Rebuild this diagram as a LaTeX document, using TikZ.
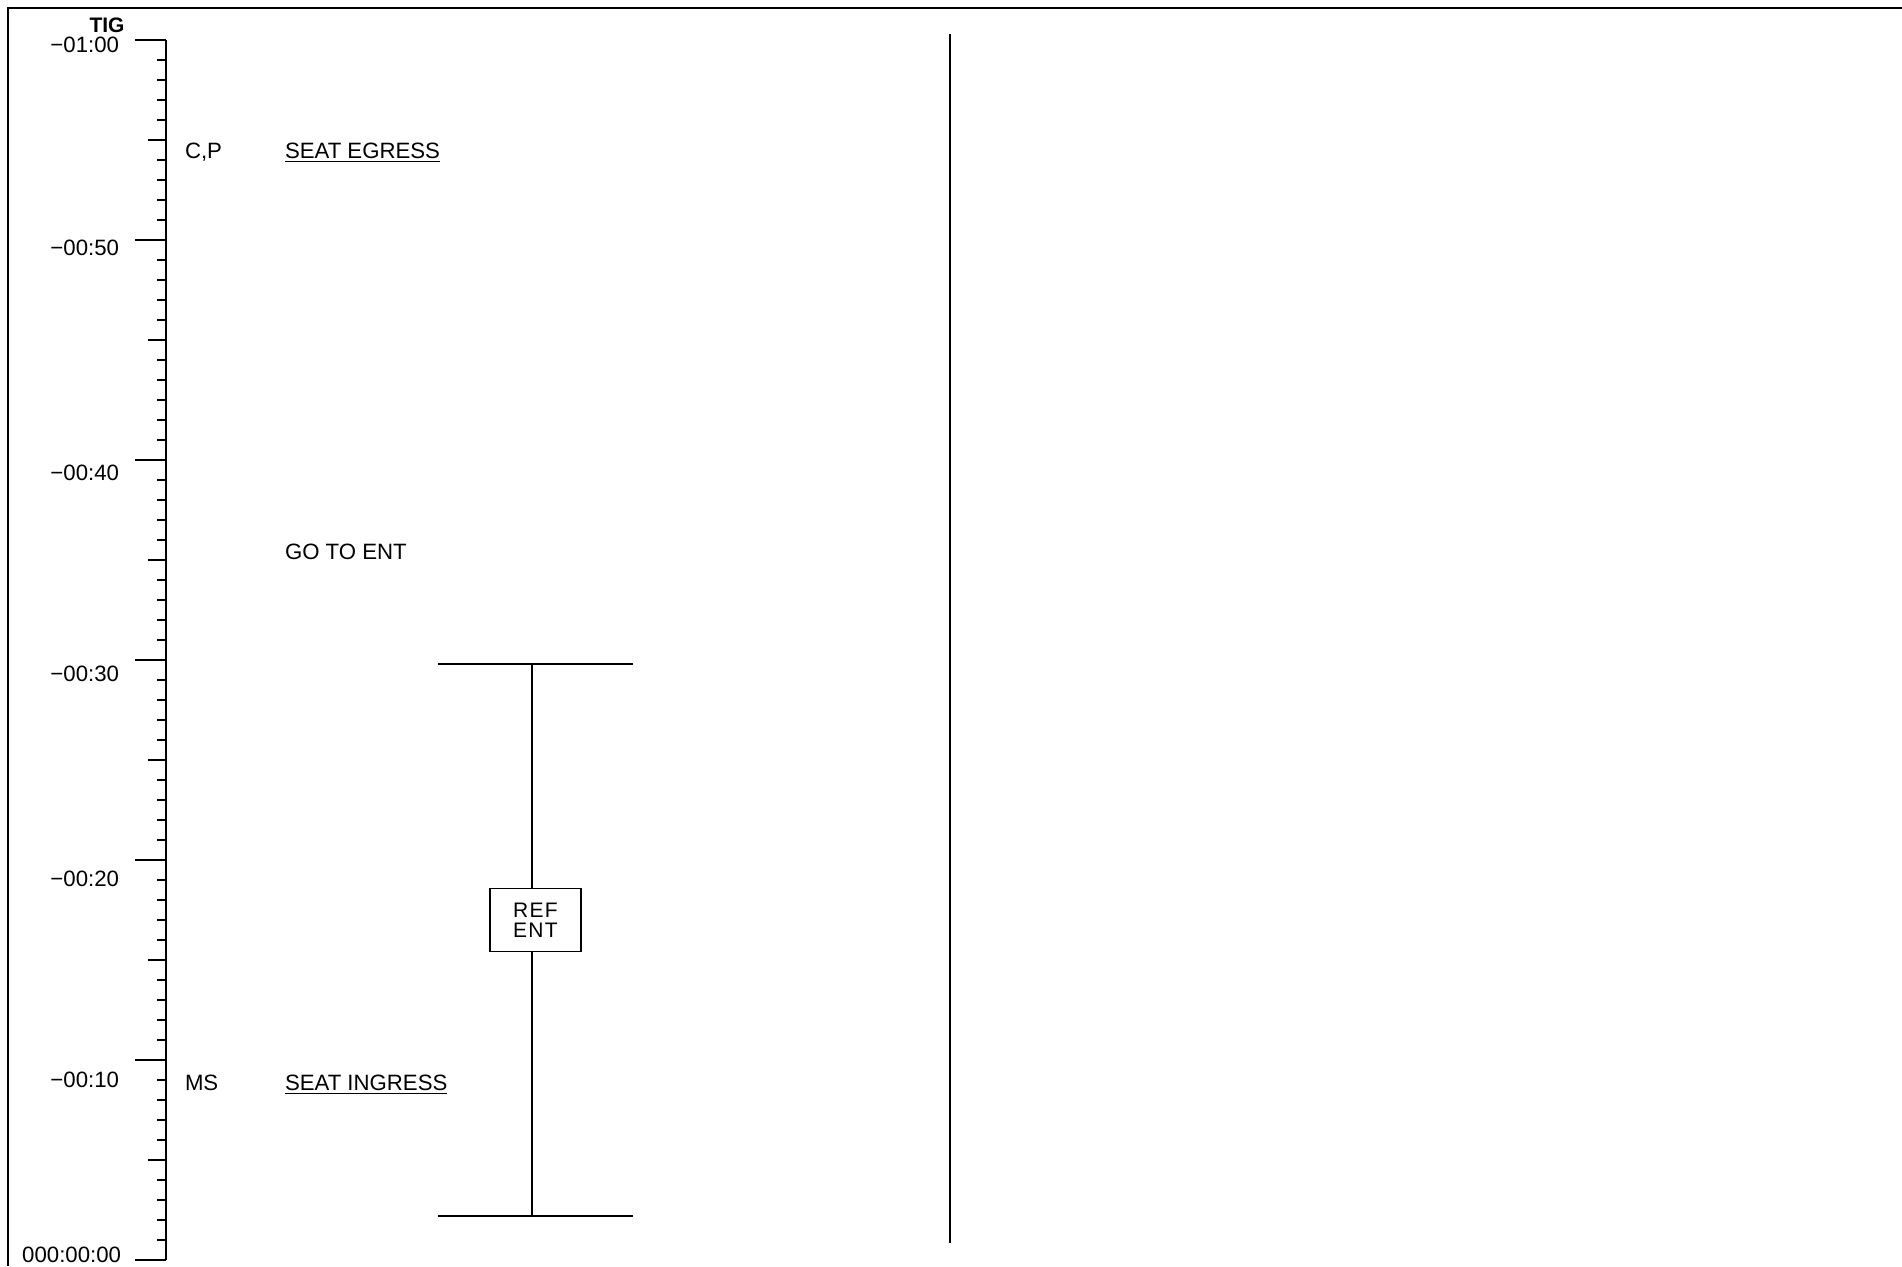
\documentclass[tikz,border=0pt]{standalone}
\usepackage{fontspec}
\setmainfont{Liberation Sans}
\usetikzlibrary{positioning}

\begin{document}
\begin{tikzpicture}[x=0.5pt,y=-0.5pt,line width=1pt,
  every node/.style={font=\fontsize{11.1}{10}\selectfont,inner sep=0pt},
  timelbl/.style={anchor=base east},
  evtlbl/.style={anchor=base west}]
  \useasboundingbox (0,0) rectangle (1902,1266);
  \draw (1902,8) -- (8,8) -- (8,1266) ;  %Frame (top and left)
  \draw (166,40) -- (166,1260) ;  %Time axis

  \foreach \k in {0,...,61} \draw (157,{40+20*\k}) -- (166,{40+20*\k}) ; %Minute ticks
  \foreach \y in {140,340,560,760,960,1160} \draw (148,\y) -- (166,\y) ; %Five minute ticks
  \foreach \y in {40,240,460,660,860,1060,1260} \draw (135,\y) -- (166,\y) ; %Ten minute ticks

  \node[font=\fontsize{10.5}{10}\selectfont\bfseries,anchor=base] (tig) at (107,32) {TIG};
  \node[timelbl] (m60) at (120,52) {−01:00};
  \node[timelbl] (m50) at (120,255) {−00:50};
  \node[timelbl] (m40) at (120,480) {−00:40};
  \node[timelbl] (m30) at (120,681) {−00:30};
  \node[timelbl] (m20) at (120,886) {−00:20};
  \node[timelbl] (m10) at (120,1087) {−00:10};
  \node[timelbl] (m00) at (122,1262) {000:00:00};

  \node[evtlbl] (crewcp) at (184,158) {C,P};
  \node[evtlbl] (egress) at (284,158) {\underline{SEAT EGRESS}};
  \node[evtlbl] (goent) at (284,559) {GO TO ENT};
  \node[evtlbl] (crewms) at (184,1090) {MS};
  \node[evtlbl] (ingress) at (284,1090) {\underline{SEAT INGRESS}};

  \draw (950,34) -- (950,1243) ;  %Column divider

  % REF ENT interval
  \coordinate (reftop) at (532,664);
  \coordinate (refbot) at (532,1216);
  \draw (438,664) -- (633,664) ;
  \draw (438,1216) -- (633,1216) ;
  \node[draw,line width=0.8pt,minimum width=45.5pt,minimum height=31.5pt,align=center,
        font=\fontsize{10.5}{10}\selectfont\addfontfeature{LetterSpace=6}] (refent) at (535.5,920) {REF\\ENT};
  \draw (reftop) -- (reftop |- refent.north);
  \draw (refbot |- refent.south) -- (refbot);
\end{tikzpicture}
\end{document}
